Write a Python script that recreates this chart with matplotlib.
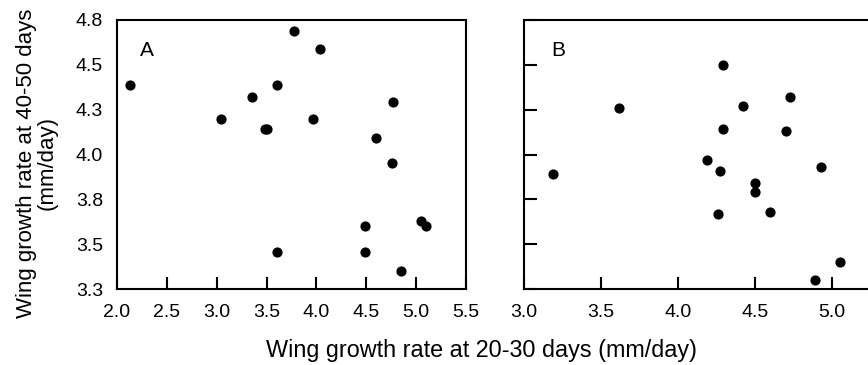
import matplotlib
matplotlib.use("Agg")
import matplotlib.pyplot as plt

# panel A
a_x = [2.13, 3.04, 3.35, 3.48, 3.50, 3.60, 3.60, 3.78, 3.97, 4.04,
       4.49, 4.49, 4.60, 4.76, 4.77, 4.85, 5.05, 5.10]
a_y = [4.39, 4.20, 4.32, 4.14, 4.14, 4.39, 3.455, 4.69, 4.20, 4.59,
       3.60, 3.455, 4.09, 3.95, 4.29, 3.35, 3.63, 3.60]

# panel B
b_x = [3.19, 3.62, 4.29, 4.42, 4.73, 4.29, 4.70, 4.19, 4.27, 4.93,
       4.50, 4.50, 4.26, 4.60, 5.05, 4.89]
b_y = [3.89, 4.26, 4.50, 4.27, 4.32, 4.14, 4.13, 3.97, 3.91, 3.93,
       3.84, 3.79, 3.67, 3.68, 3.40, 3.30]

y_ticks = [3.25, 3.5, 3.75, 4.0, 4.25, 4.5, 4.75]
y_labels = ["3.3", "3.5", "3.8", "4.0", "4.3", "4.5", "4.8"]
a_xticks = [2.0, 2.5, 3.0, 3.5, 4.0, 4.5, 5.0, 5.5]
b_xticks = [3.0, 3.5, 4.0, 4.5, 5.0]

plt.rcParams['font.family'] = ['Liberation Sans', 'DejaVu Sans']

fig = plt.figure(figsize=(8.68, 3.65), dpi=100)
W, H = 868.0, 365.0
top, bot = 20, 289
axA = fig.add_axes([117 / W, 1 - bot / H, (466 - 117) / W, (bot - top) / H])
axB = fig.add_axes([524 / W, 1 - bot / H, (870.5 - 524) / W, (bot - top) / H])

for ax in (axA, axB):
    for s in ax.spines.values():
        s.set_linewidth(1.5)
    ax.set_ylim(3.25, 4.75)
    ax.set_yticks(y_ticks)

axA.scatter(a_x, a_y, s=40, color='black', zorder=3, clip_on=False)
axA.set_xlim(2.0, 5.5)
axA.set_xticks(a_xticks)
axA.set_xticklabels([f"{v:.1f}" for v in a_xticks], fontsize=14)
axA.set_yticklabels(y_labels, fontsize=14)
axA.tick_params(axis='x', direction='in', length=9, width=1.5, pad=11)
axA.tick_params(axis='y', length=0, pad=10)
axA.text(0.066, 0.885, "A", transform=axA.transAxes, fontsize=15, ha='left', va='center')

axB.scatter(b_x, b_y, s=40, color='black', zorder=3, clip_on=False)
axB.set_xlim(3.0, 5.25)
axB.set_xticks(b_xticks)
axB.set_xticklabels([f"{v:.1f}" for v in b_xticks], fontsize=14)
axB.set_yticklabels([])
axB.tick_params(axis='x', direction='in', length=9, width=1.5, pad=11)
axB.tick_params(axis='y', direction='in', length=9, width=1.5)
axB.spines['right'].set_visible(False)
axB.text(0.08, 0.885, "B", transform=axB.transAxes, fontsize=15, ha='left', va='center')

fig.text(482 / W, 1 - 351 / H, "Wing growth rate at 20-30 days (mm/day)",
         ha='center', va='center', fontsize=16.8)
fig.text(37 / W, 1 - 163 / H, "Wing growth rate at 40-50 days\n(mm/day)",
         ha='center', va='center', rotation=90, fontsize=16, linespacing=1.0)

fig.savefig("out.png", dpi=100)
